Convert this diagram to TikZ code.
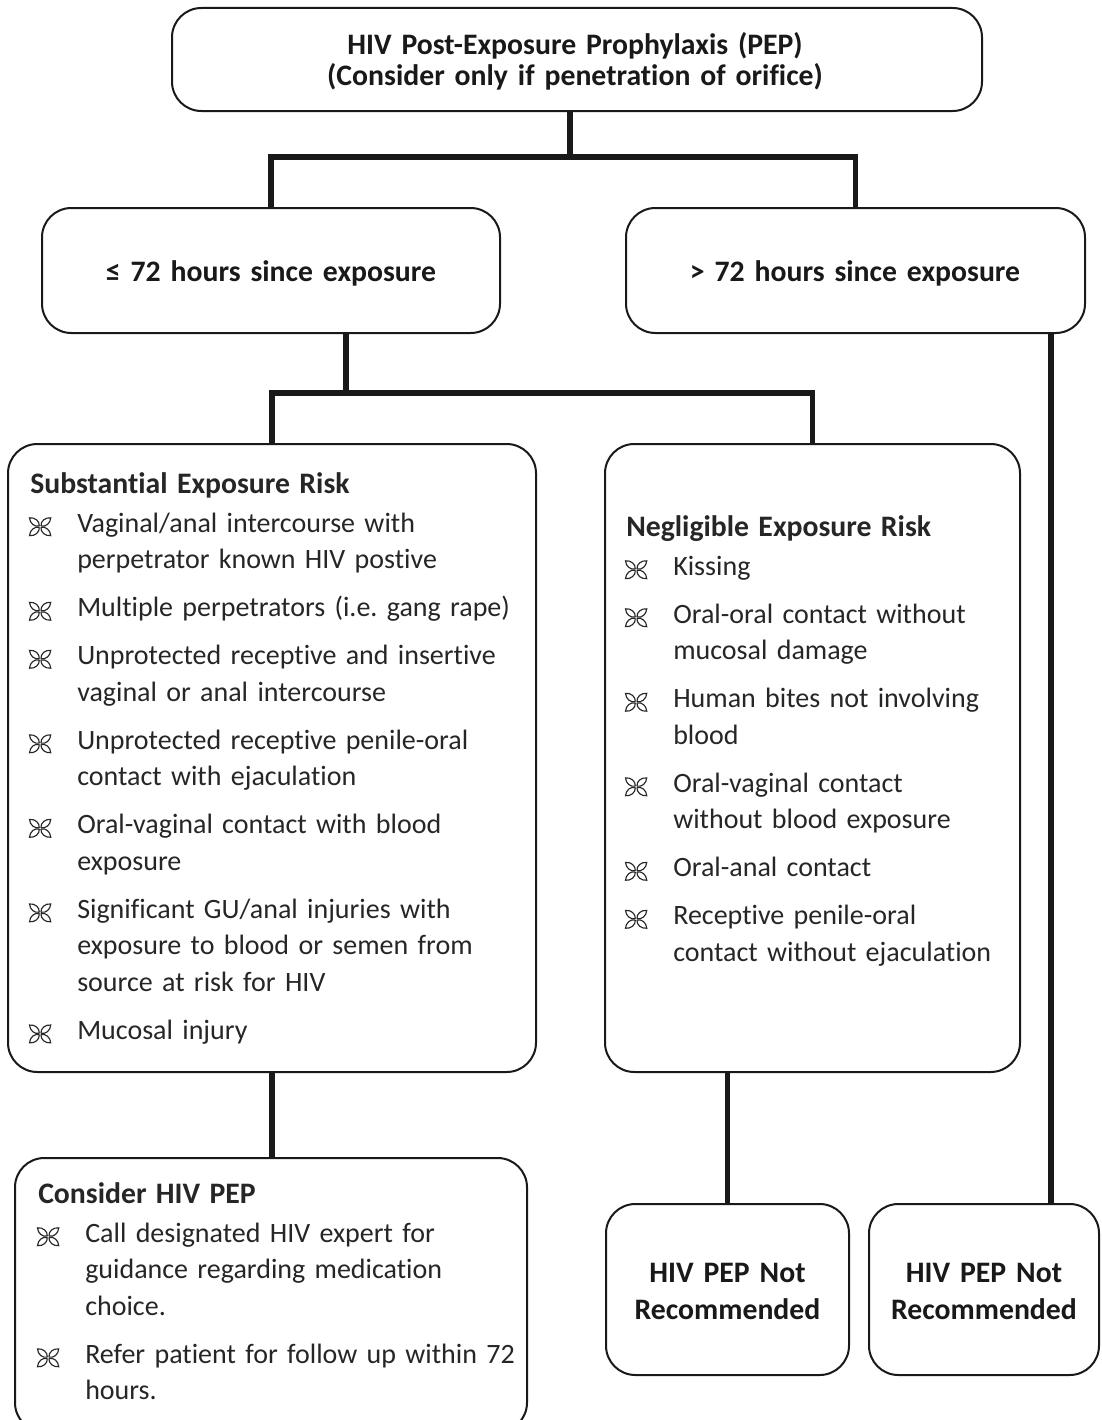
\documentclass[tikz,border=0pt]{standalone}
\usepackage{fontspec}
\setmainfont{Carlito}[Ligatures=NoCommon]
\usetikzlibrary{fit}

\newcommand{\bodyfont}{\fontsize{21pt}{27.4pt}\selectfont}
\newcommand{\headfont}{\fontsize{22.3pt}{27.75pt}\selectfont\bfseries}
\newcommand{\leaf}{\tikz[baseline=-4.1pt,x=1pt,y=1pt,line width=0.85pt]{%
  \foreach \a in {40,140,220,320}
    \draw[rotate=\a] (0.8,0) .. controls (3,3) and (7.5,3) .. (10.4,0) .. controls (7.5,-3) and (3,-3) .. (0.8,0);}}
\newcommand{\bul}[2][8.6pt]{\par\vspace{#1}\hangindent=35.25pt\hangafter=1\noindent
  \makebox[35.25pt][l]{\hspace{-1pt}\leaf}{\let\\\newline #2}\par}

\begin{document}
\frenchspacing
\begin{tikzpicture}[x=0.75pt,y=-0.75pt,
  box/.style={draw=black!90, line width=1.5pt, rounded corners=22pt, fill=white, inner sep=0pt},
  link/.style={draw=black!90, line width=3.8pt},
  title/.style={font=\headfont, text width=525pt, align=center, anchor=base, inner sep=0pt, text=black!90},
  listtxt/.style={font=\bodyfont, text width=420pt, align=left, anchor=base west, inner sep=0pt, text=black!85}]
\useasboundingbox (0,0) rectangle (1102,1420);

% boxes
\node[box, fit={(172,8) (982,111)}] (pep) {};
\node[box, fit={(42,208) (500,333)}] (early) {};
\node[box, fit={(626,208) (1085,333)}] (late) {};
\node[box, fit={(8,444) (536,1072)}] (subst) {};
\node[box, fit={(605,444) (1020,1072)}] (negl) {};
\node[box, fit={(15,1158) (527,1432)}] (cons) {};
\node[box, fit={(606,1204) (849,1375)}] (notA) {};
\node[box, fit={(869,1204) (1099,1375)}] (notB) {};

% texts
\node[title, font=\fontsize{22.3pt}{23.25pt}\selectfont\bfseries] (peptext) at (575,55) {HIV Post-Exposure Prophylaxis (PEP)\\(Consider only if penetration of orifice)};
\node[title] (earlytext) at (271,281) {≤ 72 hours since exposure};
\node[title] (latetext) at (855,281) {> 72 hours since exposure};
\node[title, text width=180pt] (notAtext) at (727.5,1282) {HIV PEP Not\\Recommended};
\node[title, text width=180pt] (notBtext) at (984,1282) {HIV PEP Not\\Recommended};

\node[listtxt] (substtext) at (30,493) {{\headfont Substantial Exposure Risk}
\bul[2pt]{Vaginal/anal intercourse with\\perpetrator known HIV postive}
\bul{Multiple perpetrators (i.e. gang rape)}
\bul{Unprotected receptive and insertive\\vaginal or anal intercourse}
\bul{Unprotected receptive penile-oral\\contact with ejaculation}
\bul{Oral-vaginal contact with blood\\exposure}
\bul{Significant GU/anal injuries with\\exposure to blood or semen from\\source at risk for HIV}
\bul{Mucosal injury}};

\node[listtxt] (negltext) at (626,536) {{\headfont Negligible Exposure Risk}
\bul[2pt]{Kissing}
\bul{Oral-oral contact without\\mucosal damage}
\bul{Human bites not involving\\blood}
\bul{Oral-vaginal contact\\without blood exposure}
\bul{Oral-anal contact}
\bul{Receptive penile-oral\\contact without ejaculation}};

\node[listtxt] (constext) at (38,1203) {{\headfont Consider HIV PEP}
\bul[2pt]{Call designated HIV expert for\\guidance regarding medication\\choice.}
\bul{Refer patient for follow up within 72\\hours.}};

% connectors
\coordinate (j1) at (570,157);
\coordinate (j2) at (346,393);
\draw[link] (pep.south -| j1) -- (j1);
\draw[link] (early.north) |- (j1) -| (late.north);
\draw[link] (early.south -| j2) -- (j2);
\draw[link] (subst.north) |- (j2) -| (negl.north);
\draw[link] (subst.south) -- (subst.south |- cons.north);
\draw[link] (negl.south -| notA.north) -- (notA.north);
\draw[link] (late.south -| 1051,0) -- (notB.north -| 1051,0);
\end{tikzpicture}
\end{document}
